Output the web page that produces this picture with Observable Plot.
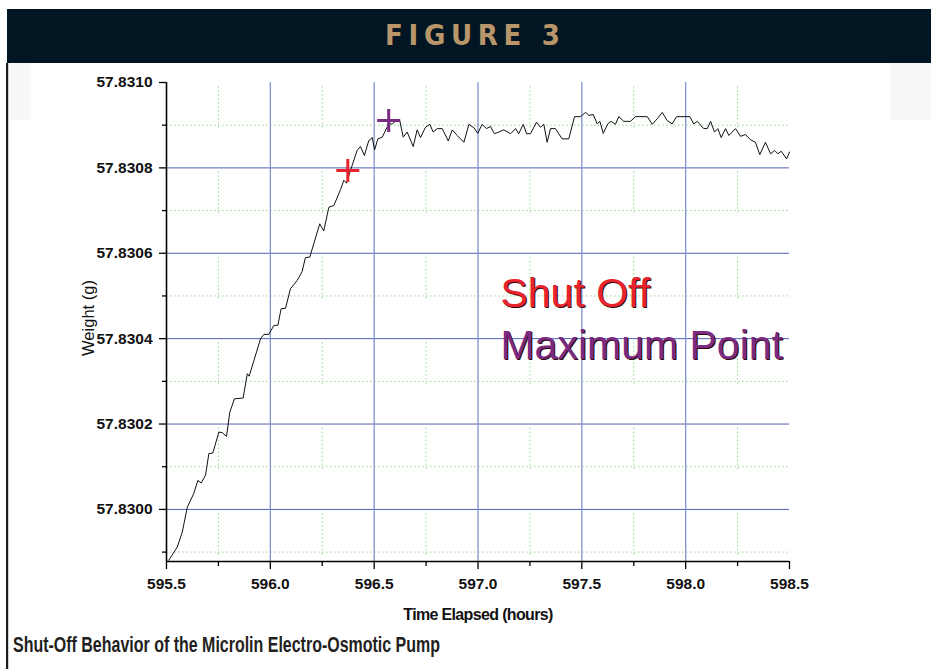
<!DOCTYPE html>
<html>
<head>
<meta charset="utf-8">
<script src="https://cdn.jsdelivr.net/npm/d3@7"></script>
<script src="https://cdn.jsdelivr.net/npm/@observablehq/plot@0.6"></script>
<style>
  html, body { margin: 0; padding: 0; background: #fff; }
  #page { position: relative; width: 931px; height: 669px; overflow: hidden; background: #fff; }
  #deco { position: absolute; left: 0; top: 0; }
  #chart { position: absolute; left: 0; top: 63px; }
</style>
</head>
<body>
<div id="page">
  <svg id="deco" width="931" height="669">
    <rect x="7" y="9" width="924" height="54" fill="#021522"></rect>
    <rect x="9" y="63" width="22" height="57" fill="#f8f8f8"></rect>
    <rect x="890" y="63" width="41" height="57" fill="#f7f7f7"></rect>
    <rect x="6" y="63" width="2.2" height="606" fill="#1d1d1d"></rect>
    <text x="385" y="45.3" textLength="175" lengthAdjust="spacing"
      style="font-family:'Liberation Sans Narrow','DejaVu Sans Condensed','Liberation Sans',Arial,sans-serif;font-size:29px;font-weight:bold;fill:#b8966a;">FIGURE 3</text>
    <text x="13" y="651.7" textLength="427" lengthAdjust="spacingAndGlyphs"
      style="font-family:'Liberation Sans Narrow','Liberation Sans',Arial,sans-serif;font-size:21.5px;font-weight:bold;fill:#231f20;">Shut-Off Behavior of the Microlin Electro-Osmotic Pump</text>
  </svg>
  <div id="chart"></div>
</div>
<script>
// ---- data ----
const xDomain = [595.5, 598.5];
const yDomain = [57.829878, 57.8310];

const xMajor = [595.5, 596.0, 596.5, 597.0, 597.5, 598.0, 598.5];
const xMinor = [595.75, 596.25, 596.75, 597.25, 597.75, 598.25];
const xGrid  = [596.0, 596.5, 597.0, 597.5, 598.0];

const yMajor = [57.8300, 57.8302, 57.8304, 57.8306, 57.8308, 57.8310];
const yMinor = [57.8299, 57.8301, 57.8303, 57.8305, 57.8307, 57.8309];
const yGrid  = [57.8300, 57.8302, 57.8304, 57.8306, 57.8308];

const hours = [
  595.511, 595.552, 595.576, 595.600, 595.631, 595.651, 595.667, 595.688, 595.704, 595.723,
  595.752, 595.768, 595.789, 595.805, 595.827, 595.869, 595.889, 595.898, 595.953, 595.969,
  595.993, 596.017, 596.036, 596.052, 596.073, 596.097, 596.129, 596.153, 596.169, 596.190,
  596.209, 596.238, 596.257, 596.282, 596.306, 596.338, 596.354, 596.367, 596.386, 596.418,
  596.434, 596.453, 596.474, 596.491, 596.502, 596.518, 596.539, 596.570, 596.587, 596.603,
  596.623, 596.640, 596.659, 596.688, 596.707, 596.723, 596.747, 596.768, 596.784, 596.804,
  596.828, 596.857, 596.876, 596.900, 596.932, 596.956, 596.980, 596.999, 597.020, 597.041,
  597.060, 597.079, 597.100, 597.124, 597.157, 597.181, 597.196, 597.218, 597.234, 597.253,
  597.282, 597.301, 597.317, 597.333, 597.349, 597.373, 597.405, 597.437, 597.465, 597.494,
  597.518, 597.534, 597.555, 597.574, 597.587, 597.603, 597.625, 597.641, 597.662, 597.678,
  597.702, 597.734, 597.758, 597.815, 597.839, 597.863, 597.887, 597.911, 597.935, 597.956,
  598.020, 598.039, 598.056, 598.087, 598.104, 598.120, 598.139, 598.155, 598.171, 598.192,
  598.208, 598.224, 598.240, 598.264, 598.288, 598.312, 598.336, 598.357, 598.384, 598.409,
  598.428, 598.444, 598.460, 598.486, 598.500
];
const weight = [
  57.829881, 57.829912, 57.829947, 57.830005, 57.830037, 57.830068, 57.830062, 57.830080, 57.830131, 57.830132,
  57.830181, 57.830180, 57.830171, 57.830228, 57.830259, 57.830261, 57.830318, 57.830312, 57.830400, 57.830410,
  57.830410, 57.830431, 57.830431, 57.830470, 57.830471, 57.830517, 57.830536, 57.830557, 57.830590, 57.830591,
  57.830622, 57.830669, 57.830652, 57.830708, 57.830712, 57.830749, 57.830771, 57.830764, 57.830794, 57.830841,
  57.830850, 57.830829, 57.830864, 57.830871, 57.830842, 57.830868, 57.830872, 57.830903, 57.830903, 57.830909,
  57.830911, 57.830872, 57.830884, 57.830850, 57.830889, 57.830871, 57.830895, 57.830902, 57.830884, 57.830892,
  57.830892, 57.830863, 57.830889, 57.830876, 57.830860, 57.830902, 57.830894, 57.830881, 57.830902, 57.830892,
  57.830897, 57.830880, 57.830884, 57.830889, 57.830880, 57.830892, 57.830880, 57.830902, 57.830880, 57.830880,
  57.830907, 57.830895, 57.830902, 57.830860, 57.830892, 57.830892, 57.830868, 57.830868, 57.830920, 57.830920,
  57.830930, 57.830923, 57.830925, 57.830903, 57.830909, 57.830881, 57.830903, 57.830909, 57.830902, 57.830920,
  57.830909, 57.830909, 57.830920, 57.830920, 57.830902, 57.830915, 57.830930, 57.830911, 57.830903, 57.830920,
  57.830920, 57.830903, 57.830909, 57.830892, 57.830892, 57.830909, 57.830884, 57.830892, 57.830871, 57.830892,
  57.830876, 57.830884, 57.830892, 57.830874, 57.830878, 57.830866, 57.830860, 57.830831, 57.830860, 57.830833,
  57.830841, 57.830833, 57.830839, 57.830821, 57.830837
];

const markerNames   = ["Shut Off", "Maximum Point"];
const markerHours   = [596.373, 596.570];
const markerWeights = [57.830794, 57.830911];
const markerColors  = ["#e8232d", "#7b2a82"];

const legendHours   = [597.108, 597.108];
const legendWeights = [57.830505, 57.830384];

const xLabel = "Time Elapsed (hours)";
const yLabel = "Weight (g)";

// ---- marks ----
const plusLine = {
  draw(ctx, size) {
    const r = Math.sqrt(size / Math.PI);
    ctx.moveTo(-r, 0); ctx.lineTo(r, 0);
    ctx.moveTo(0, -r); ctx.lineTo(0, r);
  }
};

const vDash = Array(11).fill("1.5,2.5").join(",") + ",0,41.4";
const font = '"Liberation Sans", Arial, Helvetica, sans-serif';

const chart = Plot.plot({
  width: 931,
  height: 570,
  marginTop: 19,
  marginRight: 142,
  marginBottom: 72,
  marginLeft: 166,
  x: {domain: xDomain, axis: null},
  y: {domain: yDomain, axis: null},
  color: {type: "identity"},
  style: {fontFamily: font, fontSize: "15px", fontWeight: "bold", color: "#111", background: "transparent", overflow: "visible"},
  marks: [
    Plot.ruleY(yMinor, {stroke: "#8fd88f", strokeWidth: 1, strokeDasharray: "1.5,2.5"}),
    Plot.ruleX(xMinor, {stroke: "#8fd88f", strokeWidth: 1, strokeDasharray: vDash, strokeDashoffset: -4}),
    Plot.ruleY(yGrid, {stroke: "#4f61b3", strokeWidth: 1}),
    Plot.ruleX(xGrid, {stroke: "#8393d2", strokeWidth: 1.3}),
    Plot.axisY(yMinor, {anchor: "left", tickSize: 4, tickFormat: () => "", label: null, stroke: "#000", strokeWidth: 1.3}),
    Plot.axisY(yMajor, {anchor: "left", tickSize: 7, tickPadding: 7, tickFormat: d3.format(".4f"), label: null,
      fontSize: 15.5, fontWeight: "bold", fill: "#111", stroke: "#000", strokeWidth: 1.3}),
    Plot.axisX(xMinor, {anchor: "bottom", tickSize: 5, tickFormat: () => "", label: null, stroke: "#000", strokeWidth: 1.3}),
    Plot.axisX(xMajor, {anchor: "bottom", tickSize: 8, tickPadding: 8, tickFormat: d3.format(".1f"), label: null,
      fontSize: 15.5, fontWeight: "bold", fill: "#111", stroke: "#000", strokeWidth: 1.3}),
    Plot.ruleX([xDomain[0]], {stroke: "#000", strokeWidth: 1.6}),
    Plot.ruleY([yDomain[0]], {stroke: "#000", strokeWidth: 1.6}),
    Plot.line(hours, {x: hours, y: weight, stroke: "#111", strokeWidth: 1}),
    Plot.dot(markerNames, {x: markerHours, y: markerWeights, stroke: markerColors, symbol: plusLine, r: 11.5, fill: "none", strokeWidth: 3}),
    Plot.text(markerNames, {x: legendHours, y: legendWeights, text: d => d, fill: "#2a0808", dx: 1, dy: 1,
      fontSize: 41, fontWeight: "normal", textAnchor: "start", lineAnchor: "middle"}),
    Plot.text(markerNames, {x: legendHours, y: legendWeights, text: d => d, fill: markerColors,
      fontSize: 41, fontWeight: "normal", textAnchor: "start", lineAnchor: "middle"}),
    Plot.text([xLabel], {frameAnchor: "bottom", dy: 53, text: d => d, fontSize: 16, fontWeight: "bold",
      fill: "#111", textAnchor: "middle", lineAnchor: "middle"}),
    Plot.text([yLabel], {frameAnchor: "left", dx: -78, dy: -4, rotate: -90, text: d => d, fontSize: 16.5, fontWeight: "normal",
      fill: "#111", textAnchor: "middle", lineAnchor: "middle"})
  ]
});

document.getElementById("chart").appendChild(chart);

const svg = d3.select(chart);
svg.selectAll("g[aria-label='x-axis tick label'] text, g[aria-label='y-axis tick label'] text")
  .style("font-size", "15.5px")
  .style("font-weight", "bold");
svg.selectAll("text")
  .filter(function () { return this.textContent === xLabel; })
  .style("letter-spacing", "-0.65px")
  .style("font-size", "16px");
svg.selectAll("text")
  .filter(function () { return this.textContent === yLabel; })
  .style("font-size", "16.5px")
  .style("font-weight", "normal");
</script>
</body>
</html>
